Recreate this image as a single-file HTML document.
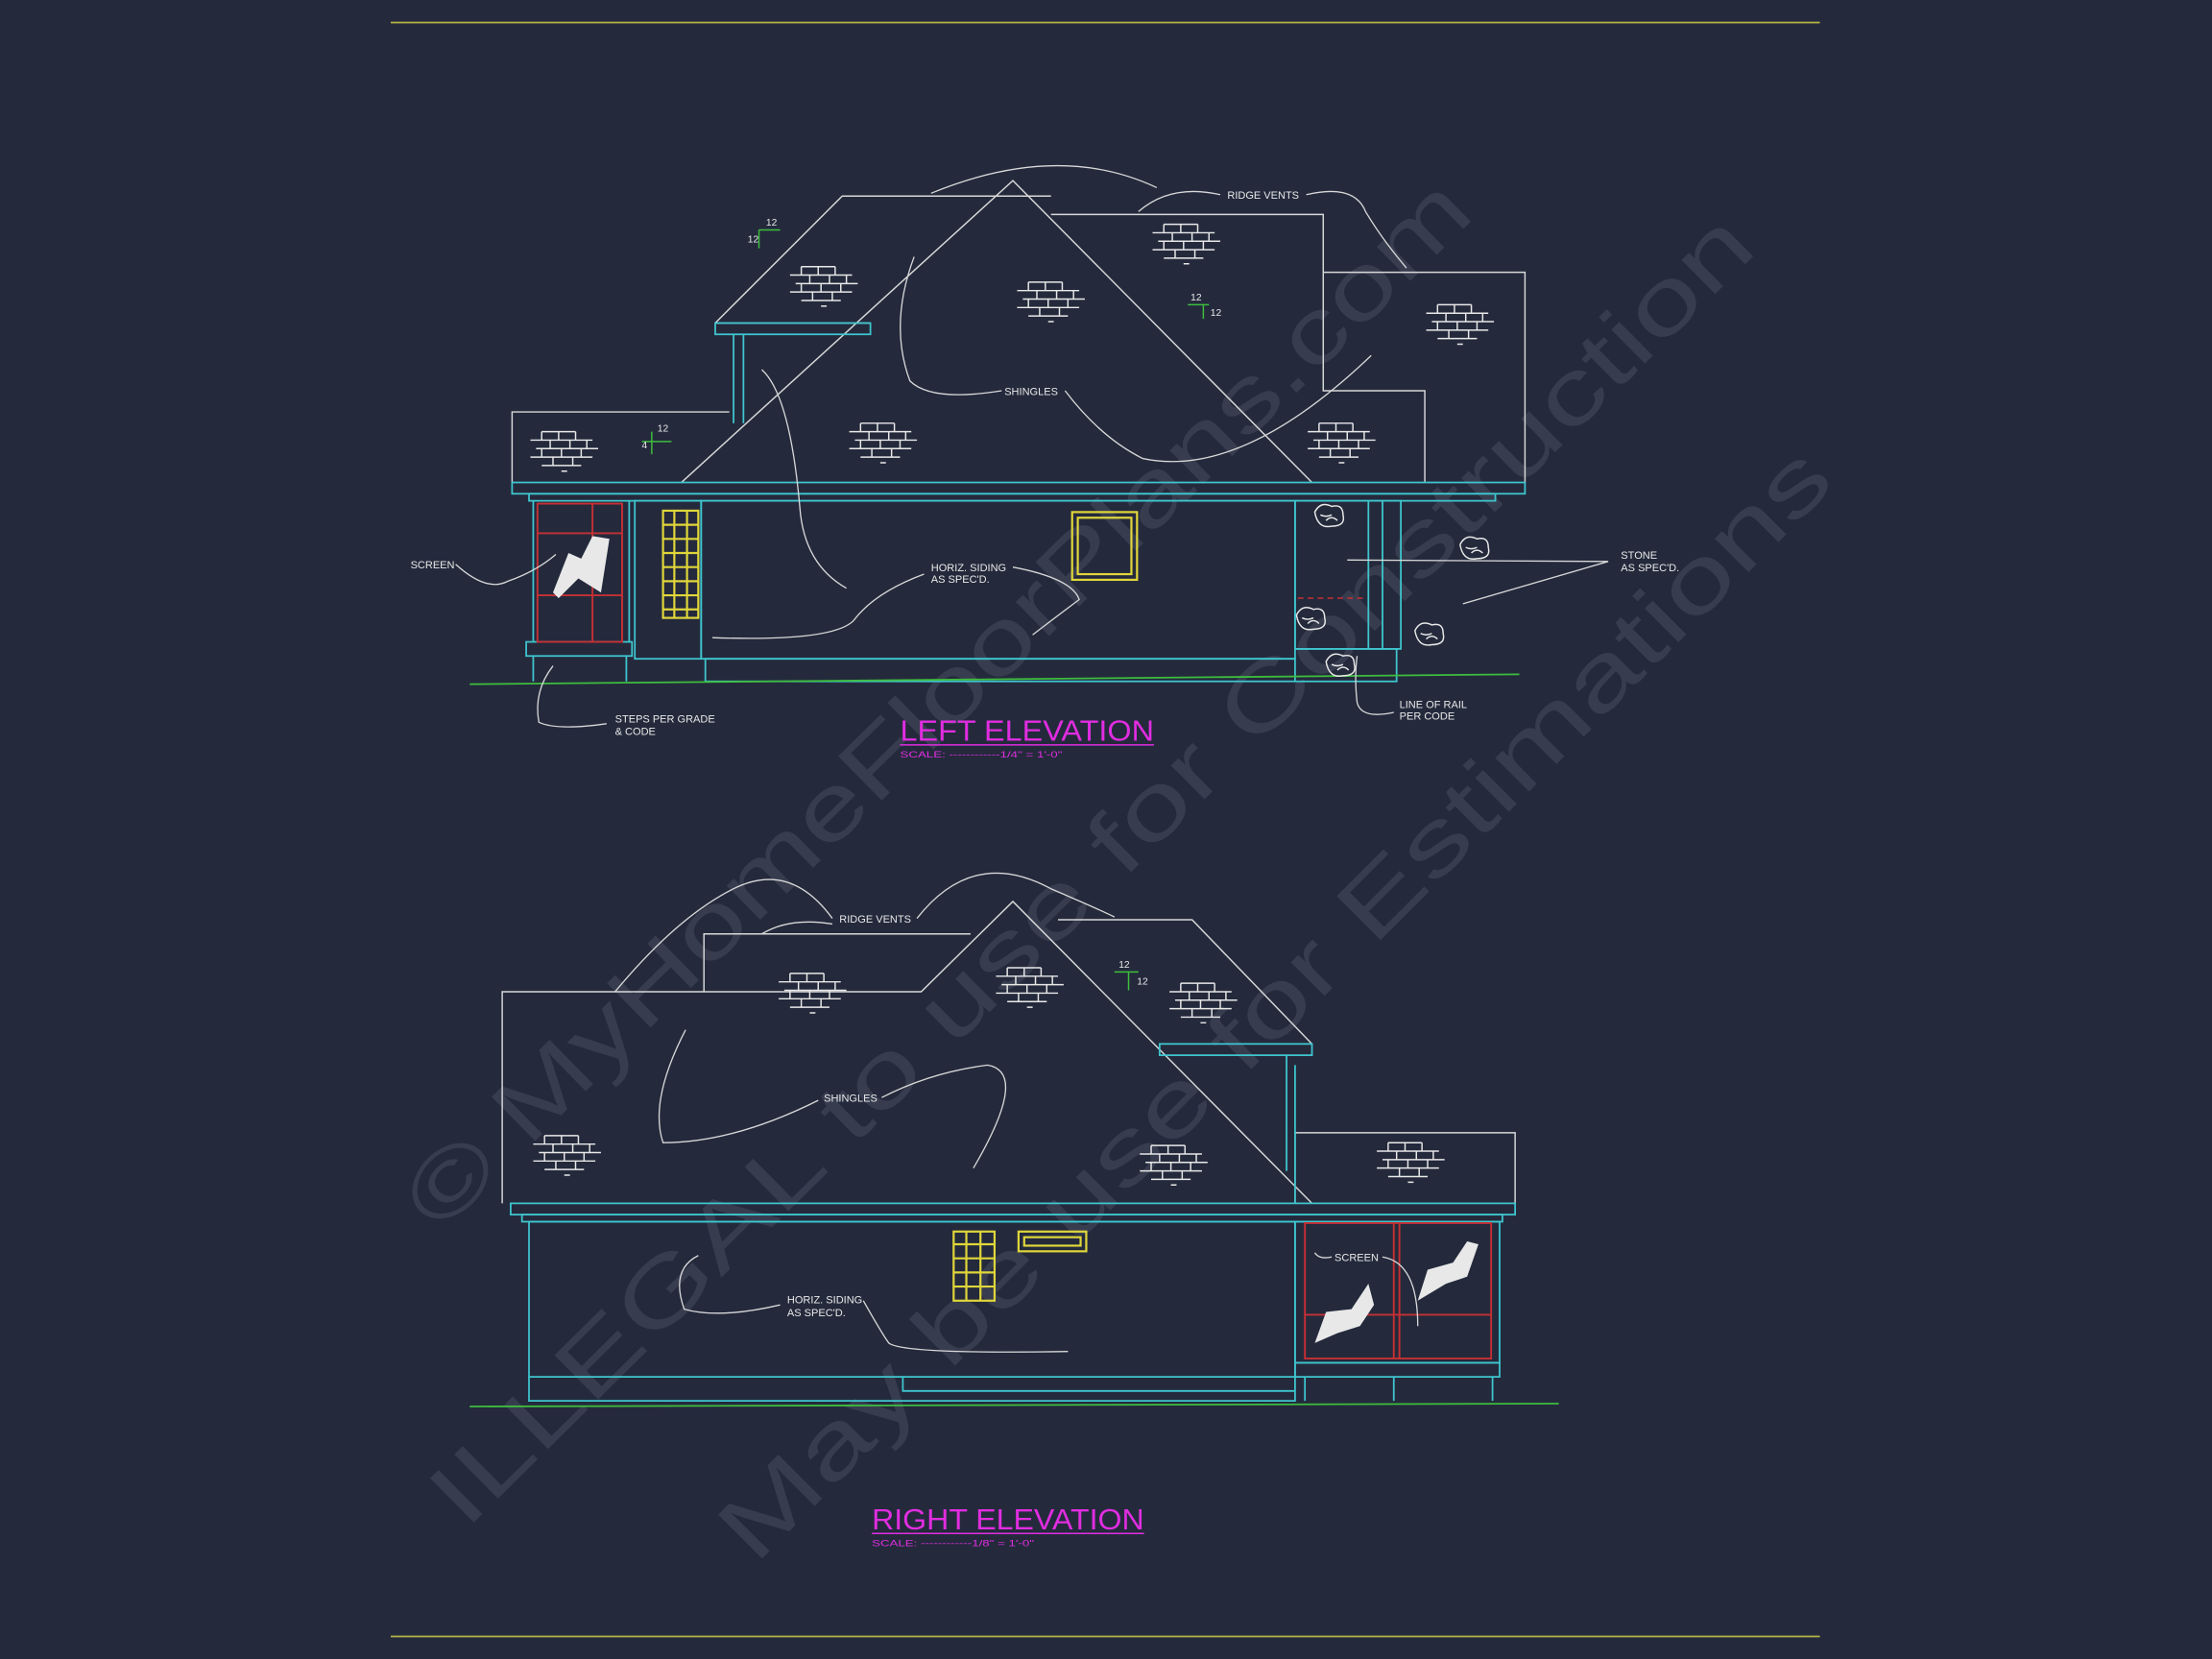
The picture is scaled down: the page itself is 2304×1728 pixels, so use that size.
<!DOCTYPE html>
<html><head><meta charset="utf-8"><style>
html,body{margin:0;padding:0;background:#242a3c;}
svg{display:block;}
text{font-family:"Liberation Sans",sans-serif;}
</style></head><body>
<svg width="2304" height="1728" viewBox="0 0 1568 1176" xmlns="http://www.w3.org/2000/svg">
<defs>
<g id="brick" stroke="#e8e8e8" stroke-width="1" fill="none">
<path d="M8 0h24M0 6h44M4 12h44M0 18h44M8 24h28M8 0v6M20 0v6M32 0v6M14 6v6M28 6v6M40 6v6M8 12v6M22 12v6M36 12v6M16 18v6M30 18v6M22 28h4"/>
</g>
<g id="stone" stroke="#e8e8e8" stroke-width="1" fill="none">
<path d="M0 6q4-8 12-4q8-2 8 6q2 8-8 8q-10 2-12-10zM4 8q4 2 8 0M8 12q4-4 8 0"/>
</g>
</defs>
<rect width="1568" height="1176" fill="#242a3c"/>
<line x1="277" y1="16" x2="1290" y2="16" stroke="#b7b445" stroke-width="1.2"/>
<line x1="277" y1="1160" x2="1290" y2="1160" stroke="#b7b445" stroke-width="1.2"/>

<g fill="#4a5062" opacity="0.5" font-family="Liberation Serif,serif">
<text x="0" y="0" font-size="64" textLength="1030" lengthAdjust="spacingAndGlyphs" transform="translate(312,875) rotate(-44.5)">© MyHomeFloorPlans.com</text>
<text x="0" y="0" font-size="64" textLength="1290" lengthAdjust="spacingAndGlyphs" transform="translate(330,1085) rotate(-44.7)">ILLEGAL to use for Construction</text>
<text x="0" y="0" font-size="64" textLength="1085" lengthAdjust="spacingAndGlyphs" transform="translate(535,1110) rotate(-45)">May be use for Estimations</text>
</g>

<!-- ===== LEFT ELEVATION ===== -->
<g fill="none" stroke="#d8d8d8" stroke-width="1">
<path d="M507 229L597 139H745"/>
<path d="M483 342L718 128L930 342"/>
<path d="M745 152H938V277H1010V342"/>
<path d="M938 193H1081V342"/>
<path d="M363 342V292H517"/>
<path d="M507 229H617"/>
</g>
<g fill="none" stroke="#3fc6cf" stroke-width="1.2">
<rect x="507" y="229" width="110" height="8"/>
<path d="M520 237V300M527 237V300"/>
<rect x="363" y="342" width="718" height="8"/>
<rect x="375" y="350" width="685" height="5"/>
<rect x="450" y="355" width="47" height="112"/>
<rect x="497" y="355" width="421" height="112"/>
<rect x="500" y="467" width="418" height="16"/>
<rect x="373" y="455" width="75" height="10"/>
<path d="M378 465V483M444 465V483"/>
<path d="M378 355V455M446 355V455"/>
<rect x="918" y="355" width="75" height="105"/>
<path d="M970 355V460M980 355V460"/>
<path d="M918 460H990V483H918"/>
</g>
<line x1="333" y1="485" x2="1077" y2="478" stroke="#3ebd3e" stroke-width="1.2"/>
<g fill="none" stroke="#e0d63a" stroke-width="1.5">
<rect x="760" y="363" width="46" height="48"/><rect x="764" y="367" width="38" height="40"/>
<rect x="470" y="362" width="25" height="76"/>
<path d="M478 362V438M487 362V438M470 372H495M470 382H495M470 392H495M470 402H495M470 412H495M470 422H495M470 432H495"/>
</g>
<g fill="none" stroke="#c53034" stroke-width="1.3">
<rect x="381" y="357" width="60" height="98"/>
<path d="M420 357V455M381 378H441M381 422H441"/>
</g>
<path d="M392 420L403 392L412 396L420 380L432 382L426 420L410 410L396 424Z" fill="#e8e8e8"/>
<line x1="920" y1="424" x2="968" y2="424" stroke="#c53034" stroke-dasharray="4 3"/>
<use href="#stone" x="932" y="357"/><use href="#stone" x="1035" y="380"/><use href="#stone" x="1003" y="441"/><use href="#stone" x="940" y="463"/><use href="#stone" x="919" y="430"/>
<use href="#brick" x="560" y="189"/><use href="#brick" x="721" y="200"/><use href="#brick" x="817" y="159"/><use href="#brick" x="1011" y="216"/>
<use href="#brick" x="376" y="306"/><use href="#brick" x="602" y="300"/><use href="#brick" x="927" y="300"/>
<g stroke="#3ebd3e" fill="none"><path d="M538 163H553M538 163V176M842 216H857M853 216V226M455 313H476M462 306V322"/></g>
<g fill="#e8e8e8" font-size="7"><text x="543" y="160">12</text><text x="530" y="172">12</text><text x="844" y="213">12</text><text x="858" y="224">12</text><text x="466" y="306">12</text><text x="455" y="318">4</text></g>
<g fill="none" stroke="#d8d8d8" stroke-width="0.9">
<path d="M865 138Q830 130 807 150"/>
<path d="M820 133Q750 100 660 137"/>
<path d="M926 138Q960 130 968 150Q980 170 997 190"/>
<path d="M710 277Q660 285 645 270Q630 230 648 182"/>
<path d="M755 277Q780 310 810 325Q880 340 972 252"/>
<path d="M600 417Q570 400 567 360Q560 280 540 262"/>
<path d="M655 407Q620 420 605 440Q590 455 505 452"/>
<path d="M718 402Q760 410 765 425Q745 440 732 450"/>
<path d="M323 400Q345 420 360 412Q380 405 394 393"/>
<path d="M430 513Q395 518 382 512Q378 490 392 472"/>
<path d="M1140 398L955 397M1140 398L1037 428"/>
<path d="M988 505Q965 510 962 498Q960 480 962 465"/>
</g>
<g fill="#e8e8e8" font-size="7.5">
<text x="870" y="141">RIDGE VENTS</text>
<text x="712" y="280">SHINGLES</text>
<text x="660" y="405">HORIZ. SIDING</text><text x="660" y="413">AS SPEC'D.</text>
<text x="291" y="403">SCREEN</text>
<text x="436" y="512">STEPS PER GRADE</text><text x="436" y="521">&amp; CODE</text>
<text x="1149" y="396">STONE</text><text x="1149" y="405">AS SPEC'D.</text>
<text x="992" y="502">LINE OF RAIL</text><text x="992" y="510">PER CODE</text>
</g>
<text x="638" y="525" font-size="21" fill="#e02de0" textLength="180" lengthAdjust="spacingAndGlyphs">LEFT ELEVATION</text>
<line x1="638" y1="528" x2="818" y2="528" stroke="#e02de0"/>
<text x="638" y="537" font-size="6.5" fill="#e02de0" textLength="115" lengthAdjust="spacingAndGlyphs">SCALE: ------------1/4" = 1'-0"</text>

<!-- ===== RIGHT ELEVATION ===== -->
<g fill="none" stroke="#d8d8d8" stroke-width="1">
<path d="M356 853V703H653L718 639L930 853"/>
<path d="M499 703V662H688"/>
<path d="M750 652H845L930 740"/>
<path d="M918 853V803H1074V853"/>
</g>
<g fill="none" stroke="#3fc6cf" stroke-width="1.2">
<rect x="822" y="740" width="108" height="8"/>
<path d="M912 748V830M918 755V853"/>
<rect x="362" y="853" width="712" height="8"/>
<rect x="370" y="861" width="695" height="5"/>
<rect x="375" y="866" width="543" height="110"/>
<path d="M375 976V993H918V976M640 976V986H918"/>
<rect x="918" y="866" width="145" height="100"/>
<rect x="918" y="966" width="145" height="10"/>
<path d="M925 976V993M988 976V993M1058 976V993"/>
</g>
<line x1="333" y1="997" x2="1105" y2="995" stroke="#3ebd3e" stroke-width="1.2"/>
<g fill="none" stroke="#e0d63a" stroke-width="1.5">
<rect x="676" y="873" width="29" height="49"/>
<path d="M685 873V922M695 873V922M676 882H705M676 892H705M676 902H705M676 912H705"/>
<rect x="722" y="873" width="48" height="14"/><rect x="726" y="877" width="40" height="6"/>
</g>
<g fill="none" stroke="#c53034" stroke-width="1.3">
<rect x="925" y="867" width="132" height="96"/>
<path d="M988 867V963M992 867V963M925 932H1057"/>
</g>
<path d="M932 952L940 930L958 928L970 910L974 925L964 940L948 945Z" fill="#e8e8e8"/>
<path d="M1005 922L1012 900L1030 895L1040 880L1048 882L1040 905L1025 910Z" fill="#e8e8e8"/>
<use href="#brick" x="552" y="690"/><use href="#brick" x="706" y="686"/><use href="#brick" x="829" y="697"/>
<use href="#brick" x="378" y="805"/><use href="#brick" x="808" y="812"/><use href="#brick" x="976" y="810"/>
<g stroke="#3ebd3e" fill="none"><path d="M790 689H807M800 689V702"/></g>
<g fill="#e8e8e8" font-size="7"><text x="793" y="686">12</text><text x="806" y="698">12</text></g>
<g fill="none" stroke="#d8d8d8" stroke-width="0.9">
<path d="M590 651Q560 610 520 630Q480 650 436 703"/>
<path d="M590 655Q560 650 540 662"/>
<path d="M650 651Q690 600 745 630Q780 645 790 650"/>
<path d="M580 780Q520 810 470 810Q460 780 486 730"/>
<path d="M625 778Q660 760 700 755Q730 760 690 828"/>
<path d="M553 925Q510 935 485 928Q475 900 495 890"/>
<path d="M612 922Q625 945 630 952Q640 960 757 958"/>
<path d="M944 891Q935 893 932 888"/>
<path d="M980 891Q1005 895 1005 940"/>
</g>
<g fill="#e8e8e8" font-size="7.5">
<text x="595" y="654">RIDGE VENTS</text>
<text x="584" y="781">SHINGLES</text>
<text x="558" y="924">HORIZ. SIDING</text><text x="558" y="933">AS SPEC'D.</text>
<text x="946" y="894">SCREEN</text>
</g>
<text x="618" y="1084" font-size="21" fill="#e02de0" textLength="193" lengthAdjust="spacingAndGlyphs">RIGHT ELEVATION</text>
<line x1="618" y1="1087" x2="811" y2="1087" stroke="#e02de0"/>
<text x="618" y="1096" font-size="6.5" fill="#e02de0" textLength="115" lengthAdjust="spacingAndGlyphs">SCALE: ------------1/8" = 1'-0"</text>
</svg>
</body></html>
